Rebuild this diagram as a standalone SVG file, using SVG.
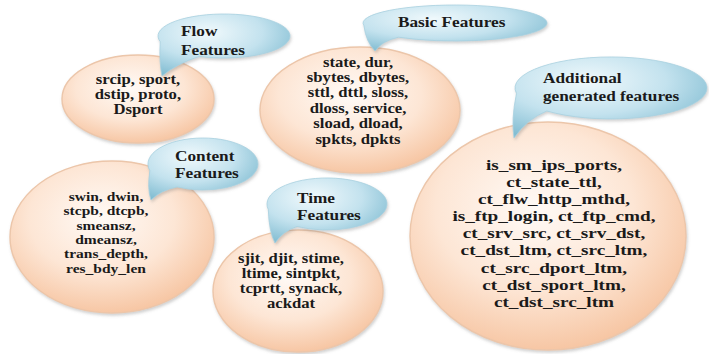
<svg xmlns="http://www.w3.org/2000/svg" width="709" height="354" viewBox="0 0 709 354">
<defs>
<radialGradient id="og" cx="45%" cy="38%" r="65%">
<stop offset="0" stop-color="#fffaf6"/>
<stop offset="0.55" stop-color="#fde6d5"/>
<stop offset="1" stop-color="#f6c39f"/>
</radialGradient>
<radialGradient id="bg" cx="38%" cy="30%" r="75%">
<stop offset="0" stop-color="#f0f9fc"/>
<stop offset="0.55" stop-color="#c3e2ee"/>
<stop offset="1" stop-color="#82bdd2"/>
</radialGradient>
<filter id="sh" x="-10%" y="-10%" width="125%" height="130%">
<feDropShadow dx="1" dy="2" stdDeviation="1.5" flood-color="#7a7a7a" flood-opacity="0.35"/>
</filter>
</defs>
<style>
.ell{fill:url(#og);stroke:#ecc6aa;stroke-width:1.4;filter:url(#sh)}
.bub{fill:url(#bg);stroke:#a8d0df;stroke-width:0.8;filter:url(#sh)}
text{font-family:"Liberation Serif","Times New Roman",serif;font-weight:bold;fill:#1a1a1a}
.t{font-size:15px}
.c{text-anchor:middle}
</style>
<rect width="709" height="354" fill="#ffffff"/>
<g id="connectors"/>

<g id="flow">
<ellipse class="ell" cx="138" cy="99" rx="76" ry="44"/>
<path class="bub" d="M160.25,41.69 Q159,62 162,76 Q176,64 199.28,56.4 A66,22 0 1,0 160.25,41.69 Z"/>
<g transform="matrix(1.15,0,0,1,-27.15,0)">
<text class="t" x="181" y="36">Flow</text>
<text class="t" x="181" y="55">Features</text>
</g>
<g class="c" transform="matrix(1.15,0,0,1,-20.7,0)" font-size="14.5">
<text x="138" y="84">srcip, sport,</text>
<text x="138" y="99">dstip, proto,</text>
<text x="138" y="114">Dsport</text>
</g>
</g>

<g id="basic">
<ellipse class="ell" cx="360" cy="110" rx="100" ry="63"/>
<path class="bub" d="M363.9,25.5 Q366,42 375,51 Q382,41 398.4,37.2 A92,18 0 1,0 363.9,25.5 Z"/>
<g transform="matrix(1.15,0,0,1,-59.7,0)">
<text class="t" x="398" y="27">Basic Features</text>
</g>
<g class="c" transform="matrix(1.15,0,0,1,-53.7,0)" font-size="14.5">
<text x="358" y="67">state, dur,</text>
<text x="358" y="82">sbytes, dbytes,</text>
<text x="358" y="97.5">sttl, dttl, sloss,</text>
<text x="358" y="113">dloss, service,</text>
<text x="358" y="128.5">sload, dload,</text>
<text x="358" y="144">spkts, dpkts</text>
</g>
</g>

<g id="additional">
<ellipse class="ell" cx="548" cy="236" rx="138" ry="114"/>
<path class="bub" d="M516.5,93.4 Q511,120 514,138 Q527,119 546.8,111 A96,31 0 1,0 516.5,93.4 Z"/>
<g transform="matrix(1.15,0,0,1,-81.45,0)">
<text class="t" x="543" y="83">Additional</text>
<text class="t" x="543" y="101">generated features</text>
</g>
<g class="c" transform="matrix(1.24,0,0,1,-132.96,0)" font-size="15.5">
<text x="554" y="170">is_sm_ips_ports,</text>
<text x="554" y="187.1">ct_state_ttl,</text>
<text x="554" y="204.2">ct_flw_http_mthd,</text>
<text x="554" y="221.3">is_ftp_login, ct_ftp_cmd,</text>
<text x="554" y="238.4">ct_srv_src, ct_srv_dst,</text>
<text x="554" y="255.5">ct_dst_ltm, ct_src_ltm,</text>
<text x="554" y="272.6">ct_src_dport_ltm,</text>
<text x="554" y="289.7">ct_dst_sport_ltm,</text>
<text x="554" y="306.8">ct_dst_src_ltm</text>
</g>
</g>

<g id="content">
<ellipse class="ell" cx="112" cy="237" rx="102" ry="76"/>
<path class="bub" d="M149.87,170.73 Q147,189 151,200 Q161,190 177.18,186.96 A55,26 0 1,0 149.87,170.73 Z"/>
<g transform="matrix(1.15,0,0,1,-26.25,0)">
<text class="t" x="175" y="161">Content</text>
<text class="t" x="175" y="178">Features</text>
</g>
<g class="c" transform="matrix(1.15,0,0,1,-15.9,0)" font-size="13.5">
<text x="106" y="201">swin, dwin,</text>
<text x="106" y="215.5">stcpb, dtcpb,</text>
<text x="106" y="230">smeansz,</text>
<text x="106" y="244">dmeansz,</text>
<text x="106" y="258.5">trans_depth,</text>
<text x="106" y="273">res_bdy_len</text>
</g>
</g>

<g id="time">
<ellipse class="ell" cx="298" cy="291" rx="85" ry="61"/>
<path class="bub" d="M268.3,209.4 Q269,232 275,243 Q283,231 297,226.5 A60,26 0 1,0 268.3,209.4 Z"/>
<g transform="matrix(1.15,0,0,1,-44.55,0)">
<text class="t" x="297" y="203">Time</text>
<text class="t" x="297" y="220">Features</text>
</g>
<g class="c" transform="matrix(1.15,0,0,1,-43.65,0)" font-size="14.5">
<text x="291" y="263">sjit, djit, stime,</text>
<text x="291" y="278">ltime, sintpkt,</text>
<text x="291" y="293">tcprtt, synack,</text>
<text x="291" y="308">ackdat</text>
</g>
</g>
</svg>
